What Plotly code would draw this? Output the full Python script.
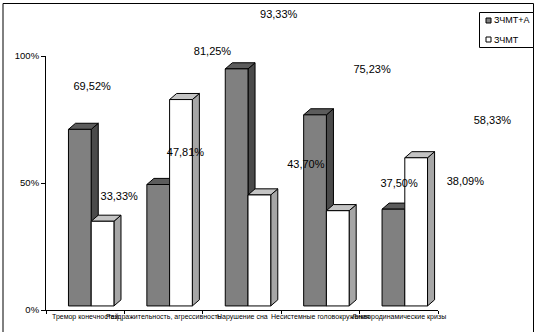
import plotly.graph_objects as go

# ---- data ----
categories = [
    "Тремор конечностей",
    "Раздражительность, агрессивность",
    "Нарушение сна",
    "Несистемные головокружения",
    "Ликвородинамические кризы",
]
series_names = ["ЗЧМТ+А", "ЗЧМТ"]
zchmt_a = [69.52, 47.81, 93.33, 75.23, 38.09]
zchmt = [33.33, 81.25, 43.70, 37.50, 58.33]
y_tick_vals = [0, 50, 100]
y_tick_text = ["0%", "50%", "100%"]

# ---- page / plot-area geometry (pixels) ----
W, H = 538, 332
PL, PR, PT, PB = 46, 438, 56, 310
N = len(categories)
UNIT_X = (PR - PL) / N          # pixels per category
UNIT_Y = (PB - PT) / 100.0      # pixels per percent


def pg_x(p):
    """page pixel -> paper fraction (paper spans the whole page)"""
    return p / W


def pg_y(p):
    return 1 - p / H


# ---- pseudo-3D column geometry (data units) ----
BAR_W = 0.29      # width of one column's front face
SHIFT = 0.0765    # front faces sit slightly right of the category centre
DEPTH_X = 0.09    # horizontal depth of the top/side faces
DEPTH_Y = 2.4     # vertical depth of the top/side faces
BASE = 1.6        # floor level of the front faces

styles = [
    dict(front="#808080", top="#5c5c5c", side="#4a4a4a"),
    dict(front="#ffffff", top="#c4c4c4", side="#a6a6a6"),
]

FONT = "Liberation Sans, Arial, sans-serif"

fig = go.Figure()


def poly(xs, ys, color):
    fig.add_trace(go.Scatter(
        x=xs + [xs[0]], y=ys + [ys[0]], mode="lines", fill="toself",
        fillcolor=color, line=dict(color="black", width=1),
        hoverinfo="skip", showlegend=False,
    ))


def column(x0, value, st):
    x1 = x0 + BAR_W
    top = BASE + value
    # side face
    poly([x1, x1 + DEPTH_X, x1 + DEPTH_X, x1],
         [BASE, BASE + DEPTH_Y, top + DEPTH_Y, top], st["side"])
    # top face
    poly([x0, x0 + DEPTH_X, x1 + DEPTH_X, x1],
         [top, top + DEPTH_Y, top + DEPTH_Y, top], st["top"])
    # front face
    poly([x0, x1, x1, x0], [BASE, BASE, top, top], st["front"])


for i in range(N):
    column(i + SHIFT - BAR_W, zchmt_a[i], styles[0])
    column(i + SHIFT, zchmt[i], styles[1])

# ---- value labels ----
# They live on a full-page frame that is the column frame enlarged by
# LABEL_SCALE about the page point (LABEL_OX, LABEL_OY).
LABEL_SCALE_X, LABEL_OX = 1.19, 15.0
LABEL_SCALE_Y, LABEL_OY = 1.194, 371.0


def label_px_x(x):
    p = PL + (x + 0.5) * UNIT_X
    return LABEL_OX + LABEL_SCALE_X * (p - LABEL_OX)


def label_px_y(v):
    p = PB - v * UNIT_Y
    return LABEL_OY + LABEL_SCALE_Y * (p - LABEL_OY)


# ranges of the full-page label frame
sx = LABEL_SCALE_X * UNIT_X
x2_lo = -label_px_x(0) / sx
x2_hi = x2_lo + W / sx
sy = LABEL_SCALE_Y * UNIT_Y
y2_lo = -(H - label_px_y(0)) / sy
y2_hi = y2_lo + H / sy

lab_x, lab_y, lab_t = [], [], []
for i in range(N):
    for k, vals in enumerate([zchmt_a, zchmt]):
        lab_x.append(i + SHIFT - BAR_W / 2 + k * BAR_W)
        lab_y.append(vals[i])
        lab_t.append(f"{vals[i]:.2f}".replace(".", ",") + "%")

fig.add_trace(go.Scatter(
    x=lab_x, y=lab_y, text=lab_t, mode="text", textposition="middle center",
    textfont=dict(family=FONT, size=11, color="black"),
    xaxis="x2", yaxis="y2", cliponaxis=False, hoverinfo="skip",
    showlegend=False,
))

# ---- category labels ----
annotations = []
for i, name in enumerate(categories):
    annotations.append(dict(
        x=i, xref="x", y=pg_y(PB), yref="paper", yanchor="top", yshift=-1,
        text=name, showarrow=False,
        font=dict(family=FONT, size=7, color="black"),
    ))

# ---- frame and legend ----
shapes = [
    dict(type="rect", xref="paper", yref="paper",
         x0=pg_x(3), x1=pg_x(533.5), y0=pg_y(345), y1=pg_y(3.5),
         line=dict(color="black", width=1), layer="below"),
    dict(type="rect", xref="paper", yref="paper",
         x0=pg_x(479.5), x1=pg_x(533.5), y0=pg_y(47.5), y1=pg_y(12.5),
         line=dict(color="black", width=1), fillcolor="white"),
]
for k, (name, st) in enumerate(zip(series_names, styles)):
    yc = 20.5 + k * 19
    shapes.append(dict(
        type="rect", xref="paper", yref="paper",
        x0=pg_x(486), x1=pg_x(491), y0=pg_y(yc + 2.5), y1=pg_y(yc - 2.5),
        line=dict(color="black", width=1), fillcolor=st["front"],
    ))
    annotations.append(dict(
        x=pg_x(491.5), xref="paper", xanchor="left",
        y=pg_y(yc), yref="paper", yanchor="middle",
        text=name, showarrow=False,
        font=dict(family=FONT, size=9, color="black"),
    ))

fig.update_layout(
    width=W, height=H,
    margin=dict(l=0, r=0, t=0, b=0, pad=0, autoexpand=False),
    paper_bgcolor="white", plot_bgcolor="rgba(0,0,0,0)",
    showlegend=False,
    font=dict(family=FONT, color="black"),
    xaxis=dict(
        domain=[pg_x(PL), pg_x(PR)], anchor="y", automargin=False,
        range=[-0.5, N - 0.5],
        tickvals=[i - 0.5 for i in range(N + 1)],
        showticklabels=False, ticks="outside", ticklen=3,
        tickcolor="black", showline=True, linecolor="black", linewidth=1,
        showgrid=False, zeroline=False, fixedrange=True,
    ),
    yaxis=dict(
        domain=[pg_y(PB), pg_y(PT)], anchor="x", automargin=False,
        range=[0, 100], tickvals=y_tick_vals, ticktext=y_tick_text,
        ticks="outside", ticklen=4, tickcolor="black",
        tickfont=dict(family=FONT, size=9.5, color="black"),
        showline=True, linecolor="black", linewidth=1,
        showgrid=False, zeroline=False, fixedrange=True,
    ),
    # full-page frame for the value labels
    xaxis2=dict(domain=[0, 1], anchor="y2", range=[x2_lo, x2_hi],
                visible=False, fixedrange=True, automargin=False),
    yaxis2=dict(domain=[0, 1], anchor="x2", range=[y2_lo, y2_hi],
                visible=False, fixedrange=True, automargin=False),
    shapes=shapes,
    annotations=annotations,
)

fig.write_html("out.html", config=dict(displayModeBar=False))
